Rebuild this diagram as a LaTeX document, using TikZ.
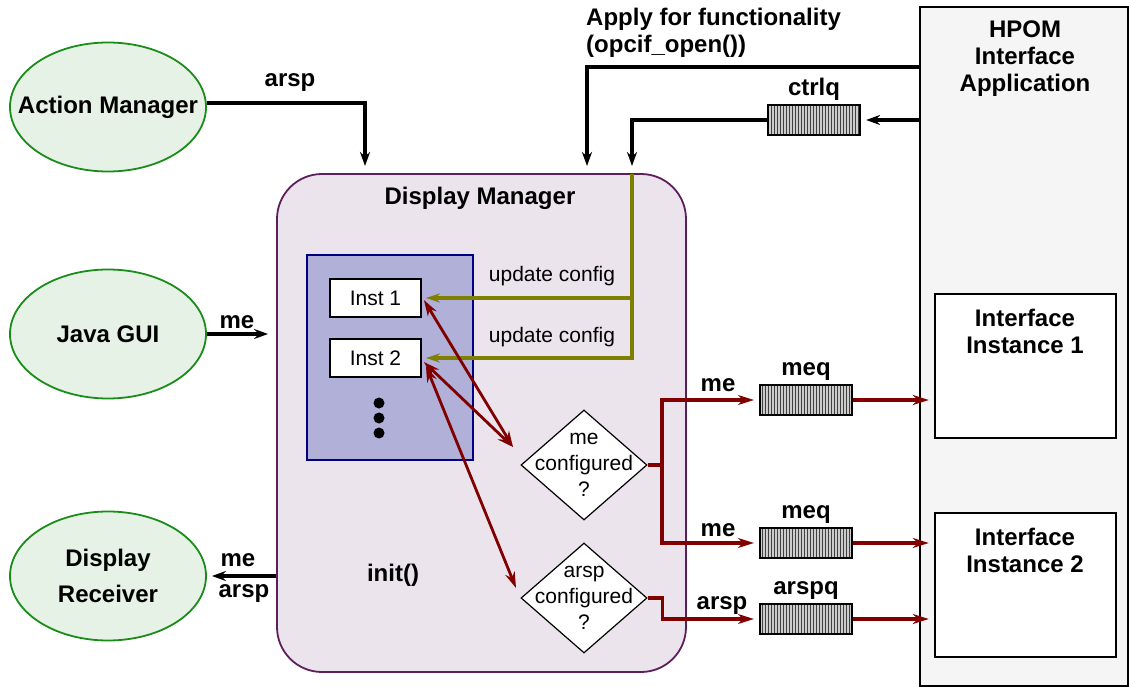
\documentclass[tikz,border=0pt]{standalone}
\usepackage{fontspec}
\setmainfont{Liberation Sans}
\usepackage{tikz}
\usetikzlibrary{positioning}
\usetikzlibrary{shapes.geometric}
\usetikzlibrary{arrows.meta}
\usetikzlibrary{patterns}

\definecolor{procfill}{HTML}{E6F2E6}
\definecolor{procline}{HTML}{1A8C1A}
\definecolor{dmfill}{HTML}{ECE4EC}
\definecolor{dmline}{HTML}{5C1F5C}
\definecolor{poolfill}{HTML}{B0B0D8}
\definecolor{poolline}{HTML}{000080}
\definecolor{hpomfill}{HTML}{F5F5F5}
\definecolor{msgred}{HTML}{800000}
\definecolor{cfgolive}{HTML}{808000}

\newcommand{\bigbf}{\fontsize{24}{27}\selectfont\bfseries}
\newcommand{\plaintxt}{\fontsize{21}{26}\selectfont}

\tikzset{
  proc/.style={ellipse,draw=procline,fill=procfill,line width=1.8pt,minimum width=196pt,minimum height=129pt,inner sep=0pt},
  queue/.style={draw,line width=2.2pt,minimum width=92pt,minimum height=30pt,preaction={fill=gray!40},pattern=vertical lines,pattern color=black!75},
  inst/.style={draw,fill=white,line width=1.8pt,minimum width=91pt,minimum height=38pt,font=\plaintxt},
  decide/.style={diamond,draw,fill=white,line width=1.2pt,minimum width=126pt,minimum height=110pt,inner sep=0pt},
  lbl/.style={font=\bigbf,inner sep=1pt},
  note/.style={font=\plaintxt,align=center,inner sep=1pt},
  sig/.style={line width=3.5pt,-{Stealth[length=14pt,width=10pt]}},
  msg/.style={draw=msgred,line width=3.5pt,-{Stealth[length=16pt,width=10pt]}},
  msgboth/.style={draw=msgred,line width=2.8pt,{Stealth[length=16pt,width=10pt]}-{Stealth[length=16pt,width=10pt]}},
  cfg/.style={draw=cfgolive,line width=3.5pt,-{Stealth[length=14pt,width=9pt]}},
}

\begin{document}
\begin{tikzpicture}[x=1pt,y=-1pt]
  \useasboundingbox (0,0) rectangle (1129,687);

  % clients on the left
  \node[proc] (am) at (108,107) {};
  \node[lbl] (amtxt) at (am) {Action Manager};
  \node[proc] (java) at (108,334) {};
  \node[lbl] (javatxt) at (java) {Java GUI};
  \node[proc] (recv) at (108,576) {};
  \node[lbl,align=center,font=\fontsize{24}{36}\selectfont\bfseries] (recvtxt) at (recv) {Display\\Receiver};

  % display manager
  \node[draw=dmline,fill=dmfill,line width=1.8pt,rounded corners=45pt,minimum width=409pt,minimum height=498pt] (dm) at (481.5,423) {};
  \node[lbl] (dmtitle) at (480,198) {Display Manager};
  \node[draw=poolline,fill=poolfill,line width=1.8pt,minimum width=166pt,minimum height=205pt] (pool) at (390,357.5) {};
  \node[inst] (inst1) at (375.5,298) {Inst 1};
  \node[inst] (inst2) at (375.5,358) {Inst 2};
  \foreach \y in {403,418,433}
    \fill (379,\y) circle (5.5pt);
  \node[lbl] (init) at (393,575) {init()};
  \node[decide] (dec1) at (584,465) {};
  \node[note] (dec1txt) at (dec1) {me\\configured\\?};
  \node[decide] (dec2) at (584,598) {};
  \node[note] (dec2txt) at (dec2) {arsp\\configured\\?};

  % interface application
  \node[draw,fill=hpomfill,line width=2.5pt,minimum width=208pt,minimum height=679pt] (hpom) at (1024,346.5) {};
  \node[lbl,align=center] (hpomtitle) at (1025,59) {HPOM\\Interface\\Application};
  \node[draw,fill=white,line width=2.5pt,minimum width=181pt,minimum height=144pt] (ii1) at (1025.5,366) {};
  \node[lbl,align=center] (ii1txt) at (1025,331) {Interface\\Instance 1};
  \node[draw,fill=white,line width=2.5pt,minimum width=181pt,minimum height=144pt] (ii2) at (1025.5,585) {};
  \node[lbl,align=center] (ii2txt) at (1025,550) {Interface\\Instance 2};

  % queues
  \node[queue] (ctrlq) at (814,120) {};
  \node[lbl,above=2pt of ctrlq] (ctrlqlbl) {ctrlq};
  \node[queue] (meq1) at (806,400) {};
  \node[lbl,above=2pt of meq1] (meq1lbl) {meq};
  \node[queue] (meq2) at (806,543) {};
  \node[lbl,above=2pt of meq2] (meq2lbl) {meq};
  \node[queue] (arspq) at (806,619) {};
  \node[lbl,above=2pt of arspq] (arspqlbl) {arspq};

  % black signals
  \coordinate (amIn) at (365,166);
  \draw[sig] ([yshift=4pt]am.east) -| (amIn);
  \node[lbl] (amlbl) at (290,83) {arsp};
  \coordinate (applyOut) at (920,67);
  \coordinate (applyIn) at (587,166);
  \draw[sig] (applyOut) -| (applyIn);
  \node[lbl,align=left,anchor=north west] (applytxt) at (585,7) {Apply for functionality\\(opcif\_open())};
  \draw[sig,shorten >=5pt] (hpom.west |- ctrlq.east) -- (ctrlq.east);
  \coordinate (ctrlIn) at (632,166);
  \draw[sig] (ctrlq.west) -| (ctrlIn);
  \draw[sig,shorten >=8pt] (java.east) -- (java.east -| dm.west);
  \node[lbl] (javalbl) at (237,322) {me};
  \draw[sig,shorten >=5pt] (dm.west |- recv.east) -- (recv.east);
  \node[lbl] (recvlbl1) at (238,560) {me};
  \node[lbl] (recvlbl2) at (244,594) {arsp};

  % config updates
  \coordinate (cfgTop) at (632,174);
  \draw[cfg,shorten >=4pt] (cfgTop) |- (inst2.east);
  \draw[cfg,shorten >=4pt] (cfgTop |- inst1.east) -- (inst1.east);
  \node[note] (upd1) at (552,276) {update config};
  \node[note] (upd2) at (552,337) {update config};

  % message routing
  \coordinate (dec1in) at (513,447);
  \coordinate (dec2in) at (516,588);
  \draw[msgboth] ([shift={(2,2)}]inst1.east) -- (dec1in);
  \draw[msgboth] ([shift={(2,4)}]inst2.east) -- (dec1in);
  \draw[msgboth] ([shift={(4,8)}]inst2.east) -- (dec2in);
  \coordinate (split) at (662,465);
  \draw[msg,-] (dec1.east) -- (split);
  \draw[msg,shorten >=5pt] (split) |- (meq1.west);
  \draw[msg,shorten >=5pt] (split) |- (meq2.west);
  \draw[msg,shorten >=5pt] (dec2.east) -- ++(15,0) |- (arspq.west);
  \node[lbl] (melbl1) at (718,385) {me};
  \node[lbl] (melbl2) at (718,530) {me};
  \node[lbl] (arsplbl) at (722,606) {arsp};
  \draw[msg,shorten >=5pt] (meq1.east) -- (meq1.east -| ii1.west);
  \draw[msg,shorten >=5pt] (meq2.east) -- (meq2.east -| ii2.west);
  \draw[msg,shorten >=5pt] (arspq.east) -- (arspq.east -| ii2.west);
\end{tikzpicture}
\end{document}
